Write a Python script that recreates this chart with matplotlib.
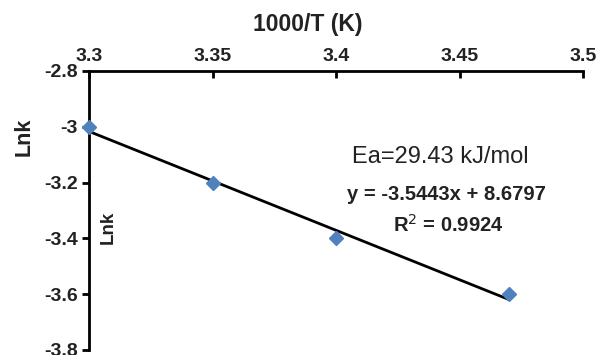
import matplotlib
matplotlib.use("Agg")
import matplotlib.pyplot as plt
import numpy as np

inv_T = [3.30, 3.35, 3.40, 3.47]
lnk = [-3.00, -3.20, -3.40, -3.60]
slope = -3.5443
intercept = 8.6797
x_ticks = [3.3, 3.35, 3.4, 3.45, 3.5]
x_tick_labels = ["3.3", "3.35", "3.4", "3.45", "3.5"]
y_ticks = [-2.8, -3.0, -3.2, -3.4, -3.6, -3.8]
y_tick_labels = ["-2.8", "-3", "-3.2", "-3.4", "-3.6", "-3.8"]

plt.rcParams['font.family'] = ['Liberation Sans', 'DejaVu Sans']

fig = plt.figure(figsize=(5.99, 3.55), dpi=100)
ax = fig.add_axes([89/599, 1-350/355, (583-89)/599, (350-71)/355])

ax.set_xlim(3.3, 3.5)
ax.set_ylim(-3.8, -2.8)

xfit = np.array([inv_T[0], inv_T[-1]])
ax.plot(xfit, slope*xfit + intercept, color='black', lw=2.0, zorder=2, clip_on=False)
ax.plot(inv_T, lnk, linestyle='none', marker='D', markersize=7.5, color='#4F81BD',
        markeredgecolor='#4F81BD', zorder=3, clip_on=False)

for s in ['right', 'bottom']:
    ax.spines[s].set_visible(False)
for s in ['left', 'top']:
    ax.spines[s].set_linewidth(2.0)
    ax.spines[s].set_color('black')

ax.xaxis.tick_top()
ax.set_xticks(x_ticks)
ax.set_xticklabels(x_tick_labels, fontsize=14, fontweight='bold', color='#222222')
ax.set_yticks(y_ticks)
ax.set_yticklabels(y_tick_labels, fontsize=14, fontweight='bold', color='#222222')
ax.tick_params(axis='x', direction='in', length=5, width=2, pad=4, top=True, bottom=False)
ax.tick_params(axis='y', direction='out', length=5, width=2, pad=3)

fig.text(308/599, 1-25/355, "1000/T (K)", fontsize=16.5, fontweight='bold',
         ha='center', va='center', color='#222222')
fig.text(24/599, 1-137/355, "Lnk", fontsize=15.5, fontweight='bold', rotation=90,
         ha='center', va='center', color='#222222')
fig.text(108/599, 1-227/355, "Lnk", fontsize=13.5, fontweight='bold', rotation=90,
         ha='center', va='center', color='#222222')

fig.text(440/599, 1-157/355, "Ea=29.43 kJ/mol", fontsize=17, ha='center', va='center',
         color='#222222')
fig.text(446/599, 1-194/355, "y = -3.5443x + 8.6797", fontsize=14.5, fontweight='bold',
         ha='center', va='center', color='#222222')
fig.text(448/599, 1-225/355, r"R$^{2}$ = 0.9924", fontsize=14.5, fontweight='bold',
         ha='center', va='center', color='#222222')

fig.savefig("out.png", dpi=100)
